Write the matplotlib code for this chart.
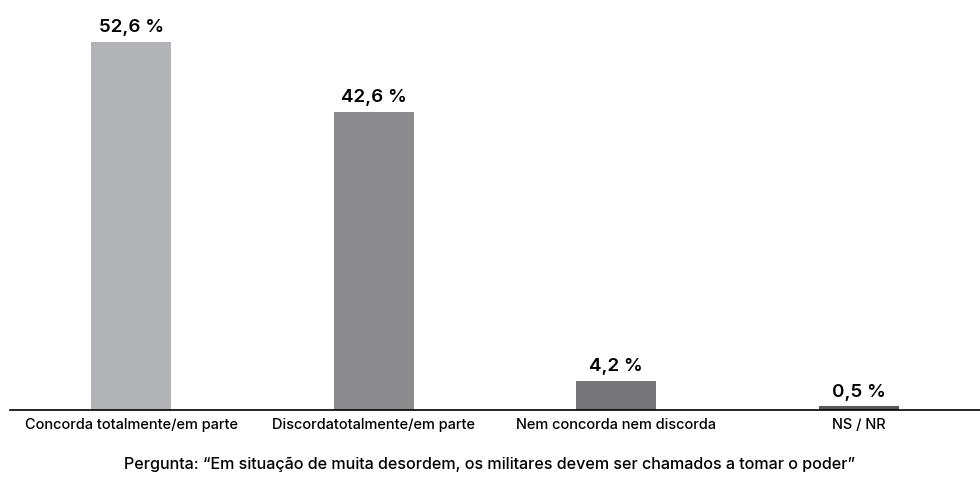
import matplotlib.pyplot as plt

categorias = ["Concorda totalmente/em parte", "Discordatotalmente/em parte",
              "Nem concorda nem discorda", "NS / NR"]
valores = [52.6, 42.6, 4.2, 0.5]
rotulos = ["52,6 %", "42,6 %", "4,2 %", "0,5 %"]
cores = ["#b1b3b6", "#8b8b8d", "#767679", "#58585a"]
pergunta = "Pergunta: \u201cEm situação de muita desordem, os militares devem ser chamados a tomar o poder\u201d"

plt.rcParams['font.family'] = ['Inter', 'DejaVu Sans']

fig = plt.figure(figsize=(9.8, 4.85), dpi=100)
ax = fig.add_axes([0.0102, 0.1526, 0.9898, 0.837])

x = range(len(valores))
barras = ax.bar(x, valores, width=0.33, color=cores)

for b, txt in zip(barras, rotulos):
    ax.annotate(txt, (b.get_x() + b.get_width() / 2, b.get_height()),
                xytext=(0, 5), textcoords="offset points",
                ha="center", va="bottom", fontsize=13.5, fontweight="semibold")

ax.set_xlim(-0.5, 3.5)
ax.set_ylim(0, 58)
ax.set_xticks(list(x))
ax.set_xticklabels(categorias, fontsize=10.5, fontweight="medium")
ax.tick_params(axis="x", length=0, pad=5)
ax.set_yticks([])
for s in ["top", "right", "left"]:
    ax.spines[s].set_visible(False)
ax.spines["bottom"].set_linewidth(1.2)

fig.text(0.5, 0.042, pergunta, ha="center", va="center", fontsize=11.6, fontweight="medium")

fig.savefig("out.png", dpi=100)
